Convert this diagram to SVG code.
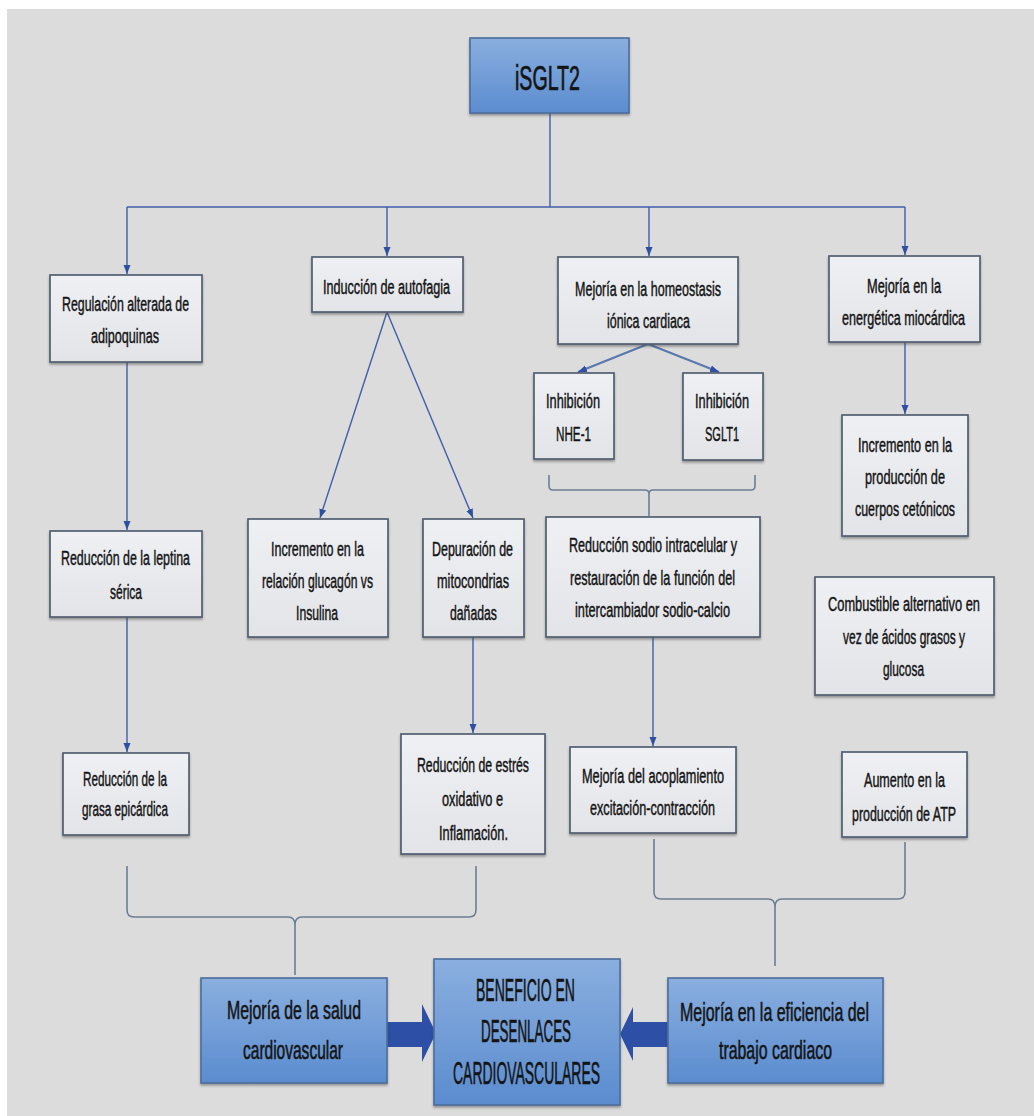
<svg xmlns="http://www.w3.org/2000/svg" width="1034" height="1116" viewBox="0 0 1034 1116">
<style>
.bg{fill:#dcdcdc}
.box{fill:url(#gBox);stroke:#525e70;stroke-width:1.7;filter:url(#sh)}
.bbox{fill:url(#gBlue);stroke:#4b6d9c;stroke-width:1.6;filter:url(#sh)}
text{font-family:"Liberation Sans",Arial,sans-serif;fill:#141414;stroke:#141414;stroke-width:0.45;text-anchor:middle}
.t{font-size:20px}
.tl{font-size:25px;stroke-width:0.55}
.tb{font-size:32px;stroke-width:0.6}
.th{font-size:35px;stroke-width:0.7}
.conn{stroke:#3f5fa8;stroke-width:1.4;fill:none}
.diag{stroke:#5a78ad;stroke-width:2.2;fill:none}
.brace{stroke:#6d7d93;stroke-width:1.6;fill:none}
.fat{fill:#2d4fa6}
</style>
<defs>
<linearGradient id="gBox" x1="0" y1="0" x2="0" y2="1">
<stop offset="0" stop-color="#eef0f4"/>
<stop offset="1" stop-color="#e3e4e8"/>
</linearGradient>
<linearGradient id="gBlue" x1="0" y1="0" x2="0" y2="1">
<stop offset="0" stop-color="#8aafdf"/>
<stop offset="1" stop-color="#5b8ccf"/>
</linearGradient>
<filter id="sh" x="-10%" y="-10%" width="120%" height="130%">
<feDropShadow dx="0" dy="2" stdDeviation="1" flood-color="#404040" flood-opacity="0.45"/>
</filter>
<marker id="ah" markerUnits="userSpaceOnUse" markerWidth="10" markerHeight="8" refX="9" refY="4" orient="auto">
<path d="M0,0.5 L9,4 L0,7.5 z" fill="#2f4fa0"/>
</marker>
</defs>

<rect class="bg" x="7" y="9" width="1027" height="1107"/>

<g id="connectors">
<path class="conn" d="M550,113 L550,207 M127,207 L905,207"/>
<path class="conn" d="M127,207 L127,274" marker-end="url(#ah)"/>
<path class="conn" d="M387,207 L387,256" marker-end="url(#ah)"/>
<path class="conn" d="M649,207 L649,256" marker-end="url(#ah)"/>
<path class="conn" d="M905,207 L905,255" marker-end="url(#ah)"/>
<path class="conn" d="M387,312 L320,518" marker-end="url(#ah)"/>
<path class="conn" d="M387,312 L473,518" marker-end="url(#ah)"/>
<path class="conn" d="M127,362 L127,530" marker-end="url(#ah)"/>
<path class="conn" d="M127,617 L127,752" marker-end="url(#ah)"/>
<path class="conn" d="M473,637 L473,733" marker-end="url(#ah)"/>
<path class="diag" d="M648,344 L578,372" marker-end="url(#ah)"/>
<path class="diag" d="M648,344 L719,372" marker-end="url(#ah)"/>
<path class="conn" d="M905,342 L905,414" marker-end="url(#ah)"/>
<path class="conn" d="M653,637 L653,746" marker-end="url(#ah)"/>
<path class="brace" d="M549,475 L549,486 Q549,490 553,490 L645,490 Q649,490 649,494 Q649,490 653,490 L751,490 Q755,490 755,486 L755,475 M649,494 L649,516"/>
<path class="brace" d="M127,866 L127,910 Q127,917 134,917 L288,917 Q295,917 295,925 Q295,917 302,917 L469,917 Q476,917 476,910 L476,866 M295,925 L295,975"/>
<path class="brace" d="M654,839 L654,892 Q654,899 661,899 L768,899 Q775,899 775,907 Q775,899 782,899 L898,899 Q905,899 905,892 L905,842 M775,907 L775,966"/>
<polygon class="fat" points="387,1022 422,1022 422,1004 436,1033 422,1062 422,1047 387,1047"/>
<polygon class="fat" points="668,1022 633,1022 633,1007 620,1034 633,1061 633,1047 668,1047"/>
</g>

<g id="n-isglt2">
<rect class="bbox" x="470" y="38" width="159" height="75"/>
<text class="th" x="547.5" y="90" textLength="65" lengthAdjust="spacingAndGlyphs">iSGLT2</text>
</g>

<g id="n-adipoquinas">
<rect class="box" x="50" y="275" width="152" height="87"/>
<text class="t" x="125.5" y="311" textLength="127" lengthAdjust="spacingAndGlyphs">Regulación alterada de</text>
<text class="t" x="125" y="343" textLength="68" lengthAdjust="spacingAndGlyphs">adipoquinas</text>
</g>

<g id="n-autofagia">
<rect class="box" x="312" y="257" width="151" height="55"/>
<text class="t" x="386.5" y="294" textLength="127" lengthAdjust="spacingAndGlyphs">Inducción de autofagia</text>
</g>

<g id="n-homeostasis">
<rect class="box" x="558" y="257" width="180" height="87"/>
<text class="t" x="648" y="296" textLength="146" lengthAdjust="spacingAndGlyphs">Mejoría en la homeostasis</text>
<text class="t" x="648.5" y="328" textLength="83" lengthAdjust="spacingAndGlyphs">iónica cardiaca</text>
</g>

<g id="n-energetica">
<rect class="box" x="829" y="256" width="151" height="86"/>
<text class="t" x="904" y="293" textLength="74" lengthAdjust="spacingAndGlyphs">Mejoría en la</text>
<text class="t" x="903.5" y="325" textLength="123" lengthAdjust="spacingAndGlyphs">energética miocárdica</text>
</g>

<g id="n-nhe1">
<rect class="box" x="534" y="373" width="80" height="86"/>
<text class="t" x="573" y="408" textLength="54" lengthAdjust="spacingAndGlyphs">Inhibición</text>
<text class="t" x="573.5" y="441" textLength="35" lengthAdjust="spacingAndGlyphs">NHE-1</text>
</g>

<g id="n-sglt1">
<rect class="box" x="683" y="373" width="80" height="87"/>
<text class="t" x="722" y="408" textLength="54" lengthAdjust="spacingAndGlyphs">Inhibición</text>
<text class="t" x="722" y="441" textLength="34" lengthAdjust="spacingAndGlyphs">SGLT1</text>
</g>

<g id="n-cetonicos">
<rect class="box" x="842" y="415" width="126" height="121"/>
<text class="t" x="905" y="452" textLength="94" lengthAdjust="spacingAndGlyphs">Incremento en la</text>
<text class="t" x="905" y="484" textLength="80" lengthAdjust="spacingAndGlyphs">producción de</text>
<text class="t" x="905" y="516" textLength="100" lengthAdjust="spacingAndGlyphs">cuerpos cetónicos</text>
</g>

<g id="n-leptina">
<rect class="box" x="50" y="531" width="152" height="86"/>
<text class="t" x="125.5" y="565" textLength="129" lengthAdjust="spacingAndGlyphs">Reducción de la leptina</text>
<text class="t" x="126" y="599" textLength="32" lengthAdjust="spacingAndGlyphs">sérica</text>
</g>

<g id="n-glucagon">
<rect class="box" x="248" y="519" width="140" height="118"/>
<text class="t" x="317.5" y="556" textLength="93" lengthAdjust="spacingAndGlyphs">Incremento en la</text>
<text class="t" x="317.5" y="588" textLength="111" lengthAdjust="spacingAndGlyphs">relación glucagón vs</text>
<text class="t" x="317" y="620" textLength="42" lengthAdjust="spacingAndGlyphs">Insulina</text>
</g>

<g id="n-mitocondrias">
<rect class="box" x="423" y="519" width="101" height="118"/>
<text class="t" x="472.5" y="556" textLength="81" lengthAdjust="spacingAndGlyphs">Depuración de</text>
<text class="t" x="473" y="588" textLength="72" lengthAdjust="spacingAndGlyphs">mitocondrias</text>
<text class="t" x="473.5" y="620" textLength="47" lengthAdjust="spacingAndGlyphs">dañadas</text>
</g>

<g id="n-sodio">
<rect class="box" x="546" y="517" width="214" height="120"/>
<text class="t" x="653" y="552" textLength="168" lengthAdjust="spacingAndGlyphs">Reducción sodio intracelular y</text>
<text class="t" x="652.5" y="585" textLength="165" lengthAdjust="spacingAndGlyphs">restauración de la función del</text>
<text class="t" x="652.5" y="617" textLength="155" lengthAdjust="spacingAndGlyphs">intercambiador sodio-calcio</text>
</g>

<g id="n-combustible">
<rect class="box" x="815" y="577" width="179" height="118"/>
<text class="t" x="904" y="611" textLength="152" lengthAdjust="spacingAndGlyphs">Combustible alternativo en</text>
<text class="t" x="904" y="644" textLength="122" lengthAdjust="spacingAndGlyphs">vez de ácidos grasos y</text>
<text class="t" x="903.5" y="676" textLength="41" lengthAdjust="spacingAndGlyphs">glucosa</text>
</g>

<g id="n-grasa">
<rect class="box" x="63" y="753" width="126" height="82"/>
<text class="t" x="125" y="786" textLength="84" lengthAdjust="spacingAndGlyphs">Reducción de la</text>
<text class="t" x="125" y="816" textLength="86" lengthAdjust="spacingAndGlyphs">grasa epicárdica</text>
</g>

<g id="n-estres">
<rect class="box" x="401" y="734" width="144" height="120"/>
<text class="t" x="473" y="772" textLength="112" lengthAdjust="spacingAndGlyphs">Reducción de estrés</text>
<text class="t" x="472.5" y="806" textLength="61" lengthAdjust="spacingAndGlyphs">oxidativo e</text>
<text class="t" x="473.5" y="840" textLength="69" lengthAdjust="spacingAndGlyphs">Inflamación.</text>
</g>

<g id="n-acoplamiento">
<rect class="box" x="570" y="747" width="166" height="86"/>
<text class="t" x="653" y="783" textLength="142" lengthAdjust="spacingAndGlyphs">Mejoría del acoplamiento</text>
<text class="t" x="652.5" y="815" textLength="125" lengthAdjust="spacingAndGlyphs">excitación-contracción</text>
</g>

<g id="n-atp">
<rect class="box" x="842" y="752" width="125" height="85"/>
<text class="t" x="904.5" y="787" textLength="81" lengthAdjust="spacingAndGlyphs">Aumento en la</text>
<text class="t" x="904" y="821" textLength="104" lengthAdjust="spacingAndGlyphs">producción de ATP</text>
</g>

<g id="n-salud">
<rect class="bbox" x="201" y="978" width="186" height="105"/>
<text class="tl" x="294" y="1019" textLength="134" lengthAdjust="spacingAndGlyphs">Mejoría de la salud</text>
<text class="tl" x="293" y="1059" textLength="100" lengthAdjust="spacingAndGlyphs">cardiovascular</text>
</g>

<g id="n-beneficio">
<rect class="bbox" x="434" y="959" width="186" height="146"/>
<text class="tb" x="525.5" y="1001" textLength="99" lengthAdjust="spacingAndGlyphs">BENEFICIO EN</text>
<text class="tb" x="526" y="1042" textLength="90" lengthAdjust="spacingAndGlyphs">DESENLACES</text>
<text class="tb" x="526.5" y="1084" textLength="147" lengthAdjust="spacingAndGlyphs">CARDIOVASCULARES</text>
</g>

<g id="n-eficiencia">
<rect class="bbox" x="668" y="978" width="215" height="105"/>
<text class="tl" x="774.5" y="1021" textLength="189" lengthAdjust="spacingAndGlyphs">Mejoría en la eficiencia del</text>
<text class="tl" x="775.5" y="1059" textLength="113" lengthAdjust="spacingAndGlyphs">trabajo cardiaco</text>
</g>
</svg>
